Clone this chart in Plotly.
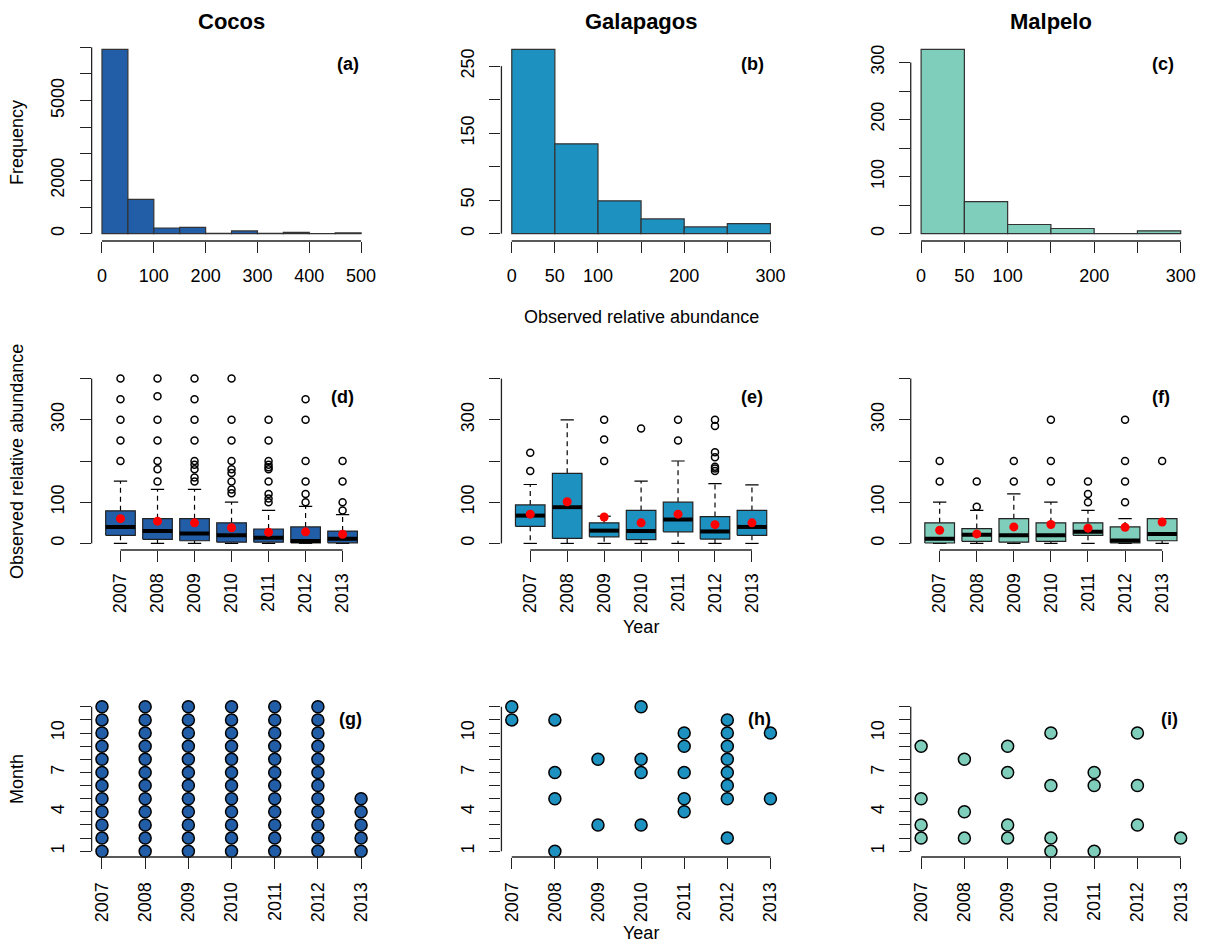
import plotly.graph_objects as go

W, H = 1213, 943

# ---------------- DATA ----------------
sites = ["Cocos", "Galapagos", "Malpelo"]
colors = ["#225ea8", "#1d91c0", "#7fcdbb"]
years = [2007, 2008, 2009, 2010, 2011, 2012, 2013]

# histograms (bin width 50)
cocos_bin_left = [0, 50, 100, 150, 200, 250, 300, 350, 400, 450]
cocos_counts = [6925, 1290, 212, 238, 10, 100, 8, 45, 5, 25]
gal_bin_left = [0, 50, 100, 150, 200, 250]
gal_counts = [275, 134, 49, 22, 10, 15]
mal_bin_left = [0, 50, 100, 150, 200, 250]
mal_counts = [323, 56, 16, 9, 0, 5]

# boxplot statistics
cocos_q1 = [19.5, 10, 6.5, 3, 3, 1.5, 1.5]
cocos_med = [40, 30, 24, 20, 14, 6, 11]
cocos_q3 = [79, 60, 60, 50, 35, 40, 30]
cocos_lo = [0, 0, 0, 0, 0, 0, 0]
cocos_hi = [151, 131, 131, 100, 80, 90, 70]
cocos_mean = [60, 54, 50, 38, 27, 28, 22]
cocos_out = [
    [200, 250, 300, 350, 400],
    [150, 180, 200, 250, 300, 357, 400],
    [150, 160, 180, 191, 200, 250, 300, 350, 400],
    [122, 131, 150, 171, 180, 200, 250, 300, 400],
    [100, 109, 120, 150, 180, 185, 191, 200, 250, 300],
    [100, 120, 150, 200, 300, 350],
    [80, 100, 150, 200],
]

gal_q1 = [41.5, 12, 16, 9, 28, 10.5, 19.5]
gal_med = [67.5, 88, 31, 30, 58, 29, 40]
gal_q3 = [93.5, 170, 50, 80, 100, 65, 80]
gal_lo = [0, 0, 0, 0, 0, 0, 0]
gal_hi = [143, 300, 66, 151, 200, 145, 142]
gal_mean = [71, 101, 64, 50, 71, 45.5, 50]
gal_out = [
    [176, 220],
    [],
    [200, 252, 300],
    [279],
    [250, 300],
    [176, 182, 186, 209, 221, 285, 300],
    [],
]

mal_q1 = [1, 5, 3, 5, 19.5, 1.5, 6.5]
mal_med = [11, 21, 20, 20, 28.5, 7, 23]
mal_q3 = [50, 36, 60, 50, 50, 40, 60]
mal_lo = [0, 0, 0, 0, 0, 0, 0]
mal_hi = [100, 80, 120, 100, 80, 60, 60]
mal_mean = [32, 23, 40, 46, 37, 39, 52]
mal_out = [
    [150, 200],
    [89, 150],
    [150, 200],
    [150, 200, 300],
    [100, 120, 150],
    [100, 150, 200, 300],
    [200],
]

# sampled months per year
cocos_months = [list(range(1, 13))] * 6 + [[1, 2, 3, 4, 5]]
gal_months = [
    [11, 12],
    [1, 5, 7, 11],
    [3, 8],
    [3, 7, 8, 12],
    [4, 5, 7, 9, 10],
    [2, 5, 6, 7, 8, 9, 10, 11],
    [5, 10],
]
mal_months = [
    [2, 3, 5, 9],
    [2, 4, 8],
    [2, 3, 7, 9],
    [1, 2, 6, 10],
    [1, 6, 7],
    [3, 6, 10],
    [2],
]

hist_x_ticks = [list(range(0, 501, 100)), list(range(0, 301, 50)), list(range(0, 301, 50))]
hist_x_labels = [["0", "100", "200", "300", "400", "500"],
                 ["0", "50", "100", "", "200", "", "300"],
                 ["0", "50", "100", "", "200", "", "300"]]
hist_y_ticks = [list(range(0, 7001, 1000)), list(range(0, 251, 50)), list(range(0, 301, 50))]
hist_y_labels = [["0", "", "2000", "", "", "5000", "", ""],
                 ["0", "50", "", "150", "", "250"],
                 ["0", "", "100", "", "200", "", "300"]]
box_y_ticks = [0, 100, 200, 300, 400]
box_y_labels = ["0", "100", "", "300", ""]
month_ticks = list(range(1, 13))
month_labels = ["1", "", "", "4", "", "", "7", "", "", "10", "", ""]
panel_labels = ["(a)", "(b)", "(c)", "(d)", "(e)", "(f)", "(g)", "(h)", "(i)"]

hist_data = [(cocos_bin_left, cocos_counts), (gal_bin_left, gal_counts), (mal_bin_left, mal_counts)]
box_data = [
    (cocos_q1, cocos_med, cocos_q3, cocos_lo, cocos_hi, cocos_mean, cocos_out),
    (gal_q1, gal_med, gal_q3, gal_lo, gal_hi, gal_mean, gal_out),
    (mal_q1, mal_med, mal_q3, mal_lo, mal_hi, mal_mean, mal_out),
]
month_data = [cocos_months, gal_months, mal_months]

# ---------------- LAYOUT GEOMETRY (pixels) ----------------
col_px = [(92, 373), (503.5, 784), (914.5, 1196)]
row_px = [(42, 241), (372, 550), (701, 857)]
label_pos = [[(349, 64), (756, 64), (1168, 64)],
             [(344, 397), (755, 397), (1166, 397)],
             [(352, 719), (763, 719), (1174, 719)]]

FONT = "Liberation Sans, Arial, Helvetica, sans-serif"
AX = "#222222"

def fx(p):
    return p / W

def fy(p):
    return 1 - p / H

fig = go.Figure()
layout = dict(width=W, height=H, margin=dict(l=0, r=0, t=0, b=0),
              paper_bgcolor="white", plot_bgcolor="white", showlegend=False,
              font=dict(family=FONT, size=18, color="black"))
shapes = []
annotations = []

def axis_common():
    return dict(showgrid=False, zeroline=False, showline=False, ticks="outside",
                ticklen=11, tickwidth=1.3, tickcolor=AX,
                tickfont=dict(family=FONT, size=18, color="black"))

k = 0
for r in range(3):
    for c in range(3):
        k += 1
        xa = "x" if k == 1 else f"x{k}"
        ya = "y" if k == 1 else f"y{k}"
        xkey = "xaxis" if k == 1 else f"xaxis{k}"
        ykey = "yaxis" if k == 1 else f"yaxis{k}"
        xd = [fx(col_px[c][0]), fx(col_px[c][1])]
        yd = [fy(row_px[r][1]), fy(row_px[r][0])]
        xax = axis_common(); yax = axis_common()
        xax.update(domain=xd, anchor=ya)
        yax.update(domain=yd, anchor=xa, tickangle=-90, ticklabelstandoff=8)
        col = colors[c]

        if r == 0:
            left, counts = hist_data[c]
            bw = 50
            xmin, xmax = left[0], left[-1] + bw
            fig.add_trace(go.Bar(x=[l + bw / 2 for l in left], y=counts, width=bw,
                                 marker=dict(color=col, line=dict(color="#333333", width=1.2)),
                                 xaxis=xa, yaxis=ya))
            ymax = max(counts)
            xax.update(range=[xmin - 0.04 * (xmax - xmin), xmax + 0.04 * (xmax - xmin)],
                       tickvals=hist_x_ticks[c], ticktext=hist_x_labels[c], ticklabelstandoff=7)
            yax.update(range=[-0.04 * ymax, 1.04 * ymax],
                       tickvals=hist_y_ticks[c], ticktext=hist_y_labels[c])
            xt, yt = hist_x_ticks[c], hist_y_ticks[c]
        elif r == 1:
            q1, med, q3, lo, hi, mean, outs = box_data[c]
            n = len(years)
            pos = list(range(1, n + 1))
            hw = 0.4
            sw = 0.18
            bx, by, mx, my, wx, wy, sx, sy, ox, oy = [], [], [], [], [], [], [], [], [], []
            for i in range(n):
                p = pos[i]
                bx += [p - hw, p + hw, p + hw, p - hw, p - hw, None]
                by += [q1[i], q1[i], q3[i], q3[i], q1[i], None]
                mx += [p - hw, p + hw, None]
                my += [med[i], med[i], None]
                if hi[i] > q3[i]:
                    wx += [p, p, None]; wy += [q3[i], hi[i], None]
                if lo[i] < q1[i]:
                    wx += [p, p, None]; wy += [q1[i], lo[i], None]
                sx += [p - sw, p + sw, None, p - sw, p + sw, None]
                sy += [hi[i], hi[i], None, lo[i], lo[i], None]
                for o in outs[i]:
                    ox.append(p); oy.append(o)
            fig.add_trace(go.Scatter(x=wx, y=wy, mode="lines", xaxis=xa, yaxis=ya,
                                     line=dict(color="black", width=1.2, dash="5px,4px")))
            fig.add_trace(go.Scatter(x=sx, y=sy, mode="lines", xaxis=xa, yaxis=ya,
                                     line=dict(color="black", width=1.2)))
            fig.add_trace(go.Scatter(x=bx, y=by, mode="lines", fill="toself", fillcolor=col,
                                     xaxis=xa, yaxis=ya, line=dict(color="#222222", width=1.2)))
            fig.add_trace(go.Scatter(x=mx, y=my, mode="lines", xaxis=xa, yaxis=ya,
                                     line=dict(color="black", width=4)))
            fig.add_trace(go.Scatter(x=ox, y=oy, mode="markers", xaxis=xa, yaxis=ya, cliponaxis=False,
                                     marker=dict(symbol="circle-open", size=7, color="black",
                                                 line=dict(width=1.5, color="black"))))
            fig.add_trace(go.Scatter(x=pos, y=mean, mode="markers", xaxis=xa, yaxis=ya, cliponaxis=False,
                                     marker=dict(symbol="circle", size=9, color="#ff0000")))
            xax.update(range=[0.5 - 0.04 * 7, 7.5 + 0.04 * 7], tickvals=pos,
                       ticktext=[str(y) for y in years], tickangle=-90, ticklabelstandoff=4)
            yax.update(range=[-16, 416], tickvals=box_y_ticks, ticktext=box_y_labels)
            xt, yt = pos, box_y_ticks
        else:
            months = month_data[c]
            px_, py_ = [], []
            for i, yr in enumerate(years):
                for m in months[i]:
                    px_.append(yr); py_.append(m)
            fig.add_trace(go.Scatter(x=px_, y=py_, mode="markers", xaxis=xa, yaxis=ya, cliponaxis=False,
                                     marker=dict(symbol="circle", size=12, color=col,
                                                 line=dict(width=1.5, color="black"))))
            xspan = years[-1] - years[0]
            xax.update(range=[years[0] - 0.04 * xspan, years[-1] + 0.04 * xspan],
                       tickvals=years, ticktext=[str(y) for y in years], tickangle=-90,
                       ticklabelstandoff=6)
            yax.update(range=[1 - 0.04 * 11, 12 + 0.04 * 11], tickvals=month_ticks, ticktext=month_labels)
            xt, yt = years, month_ticks

        layout[xkey] = xax
        layout[ykey] = yax
        # R-style axis lines spanning first..last tick
        shapes.append(dict(type="line", xref=xa, yref=f"{ya} domain", x0=xt[0], x1=xt[-1], y0=0, y1=0,
                           line=dict(color=AX, width=1.3)))
        shapes.append(dict(type="line", xref=f"{xa} domain", yref=ya, x0=0, x1=0, y0=yt[0], y1=yt[-1],
                           line=dict(color=AX, width=1.3)))
        lx, ly = label_pos[r][c]
        annotations.append(dict(text=f"<b>{panel_labels[k-1]}</b>", x=fx(lx), y=fy(ly), xref="paper",
                                yref="paper", showarrow=False, xanchor="center", yanchor="middle",
                                font=dict(family=FONT, size=18, color="black")))

# titles
for c in range(3):
    cx = (col_px[c][0] + col_px[c][1]) / 2
    annotations.append(dict(text=f"<b>{sites[c]}</b>", x=fx(cx), y=fy(21), xref="paper", yref="paper",
                            showarrow=False, xanchor="center", yanchor="middle",
                            font=dict(family=FONT, size=22, color="black")))

midx = (col_px[1][0] + col_px[1][1]) / 2
for txt, yy in [("Observed relative abundance", 317), ("Year", 627), ("Year", 933)]:
    annotations.append(dict(text=txt, x=fx(midx), y=fy(yy), xref="paper", yref="paper", showarrow=False,
                            xanchor="center", yanchor="middle", font=dict(family=FONT, size=18)))
for txt, yy in [("Frequency", 142), ("Observed relative abundance", 461), ("Month", 779)]:
    annotations.append(dict(text=txt, x=fx(17), y=fy(yy), xref="paper", yref="paper", showarrow=False,
                            textangle=-90, xanchor="center", yanchor="middle", font=dict(family=FONT, size=18)))

layout["shapes"] = shapes
layout["annotations"] = annotations
fig.update_layout(**layout)
fig.write_html("out.html")
